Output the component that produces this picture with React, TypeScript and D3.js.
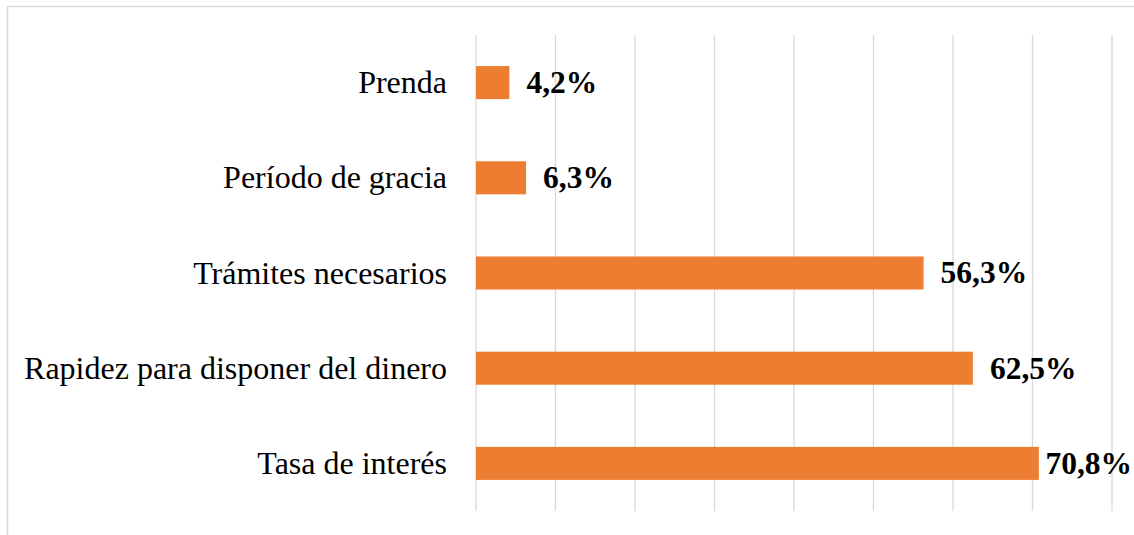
import React, { useEffect, useRef } from "react";
import * as d3 from "d3";

const categories = [
  "Prenda",
  "Período de gracia",
  "Trámites necesarios",
  "Rapidez para disponer del dinero",
  "Tasa de interés",
];
const values = [4.2, 6.3, 56.3, 62.5, 70.8];
const valueLabels = ["4,2%", "6,3%", "56,3%", "62,5%", "70,8%"];
const gridTicks = [0, 10, 20, 30, 40, 50, 60, 70, 80];

const W = 1134;
const H = 535;

const App = () => {
  const ref = useRef<SVGSVGElement>(null);

  useEffect(() => {
    const svg = d3.select(ref.current);
    svg.selectAll("*").remove();

    const margin = { top: 35, right: 22, bottom: 24, left: 476 };
    const font = "'Liberation Serif', 'Times New Roman', serif";

    const x = d3
      .scaleLinear()
      .domain([0, 80])
      .range([margin.left, W - margin.right]);

    const y = d3
      .scaleBand()
      .domain(categories)
      .range([margin.top, H - margin.bottom])
      .paddingInner(0.653)
      .paddingOuter(0.3265);

    // chart frame
    svg
      .append("rect")
      .attr("x", 7.5)
      .attr("y", 6.5)
      .attr("width", W + 20)
      .attr("height", H + 20)
      .attr("fill", "white")
      .attr("stroke", "#d9d9d9")
      .attr("stroke-width", 1.5);

    // gridlines
    svg
      .append("g")
      .selectAll("line")
      .data(gridTicks)
      .enter()
      .append("line")
      .attr("x1", (d) => x(d))
      .attr("x2", (d) => x(d))
      .attr("y1", margin.top)
      .attr("y2", H - margin.bottom)
      .attr("stroke", "#d9d9d9")
      .attr("stroke-width", 1.3);

    const rows = categories.map((c, i) => ({ c, v: values[i], label: valueLabels[i] }));

    svg
      .append("g")
      .selectAll("rect")
      .data(rows)
      .enter()
      .append("rect")
      .attr("x", x(0))
      .attr("y", (d) => y(d.c)!)
      .attr("width", (d) => x(d.v) - x(0))
      .attr("height", y.bandwidth())
      .attr("fill", "#ED7D31");

    // category labels
    svg
      .append("g")
      .selectAll("text")
      .data(rows)
      .enter()
      .append("text")
      .attr("x", x(0) - 29)
      .attr("y", (d) => y(d.c)! + y.bandwidth() / 2)
      .attr("dy", "0.33em")
      .attr("text-anchor", "end")
      .attr("font-family", font)
      .attr("font-size", 32)
      .attr("fill", "#000")
      .text((d) => d.c);

    // value labels
    const vl = svg
      .append("g")
      .selectAll("text")
      .data(rows)
      .enter()
      .append("text")
      .attr("x", (d) => x(d.v) + 17)
      .attr("y", (d) => y(d.c)! + y.bandwidth() / 2)
      .attr("dy", "0.33em")
      .attr("font-family", font)
      .attr("font-size", 31.5)
      .attr("font-weight", "bold")
      .attr("fill", "#000")
      .text((d) => d.label);

    // keep labels inside the chart area
    vl.each(function (d) {
      const el = this as SVGTextElement;
      const w = el.getComputedTextLength();
      const maxX = W - 2 - w;
      const px = x(d.v) + 17;
      if (px > maxX) d3.select(el).attr("x", Math.max(x(d.v) + 5, maxX));
    });
  }, []);

  return (
    <svg
      ref={ref}
      width={W}
      height={H}
      style={{ position: "absolute", left: 0, top: 0, background: "white" }}
    />
  );
};

export default App;
